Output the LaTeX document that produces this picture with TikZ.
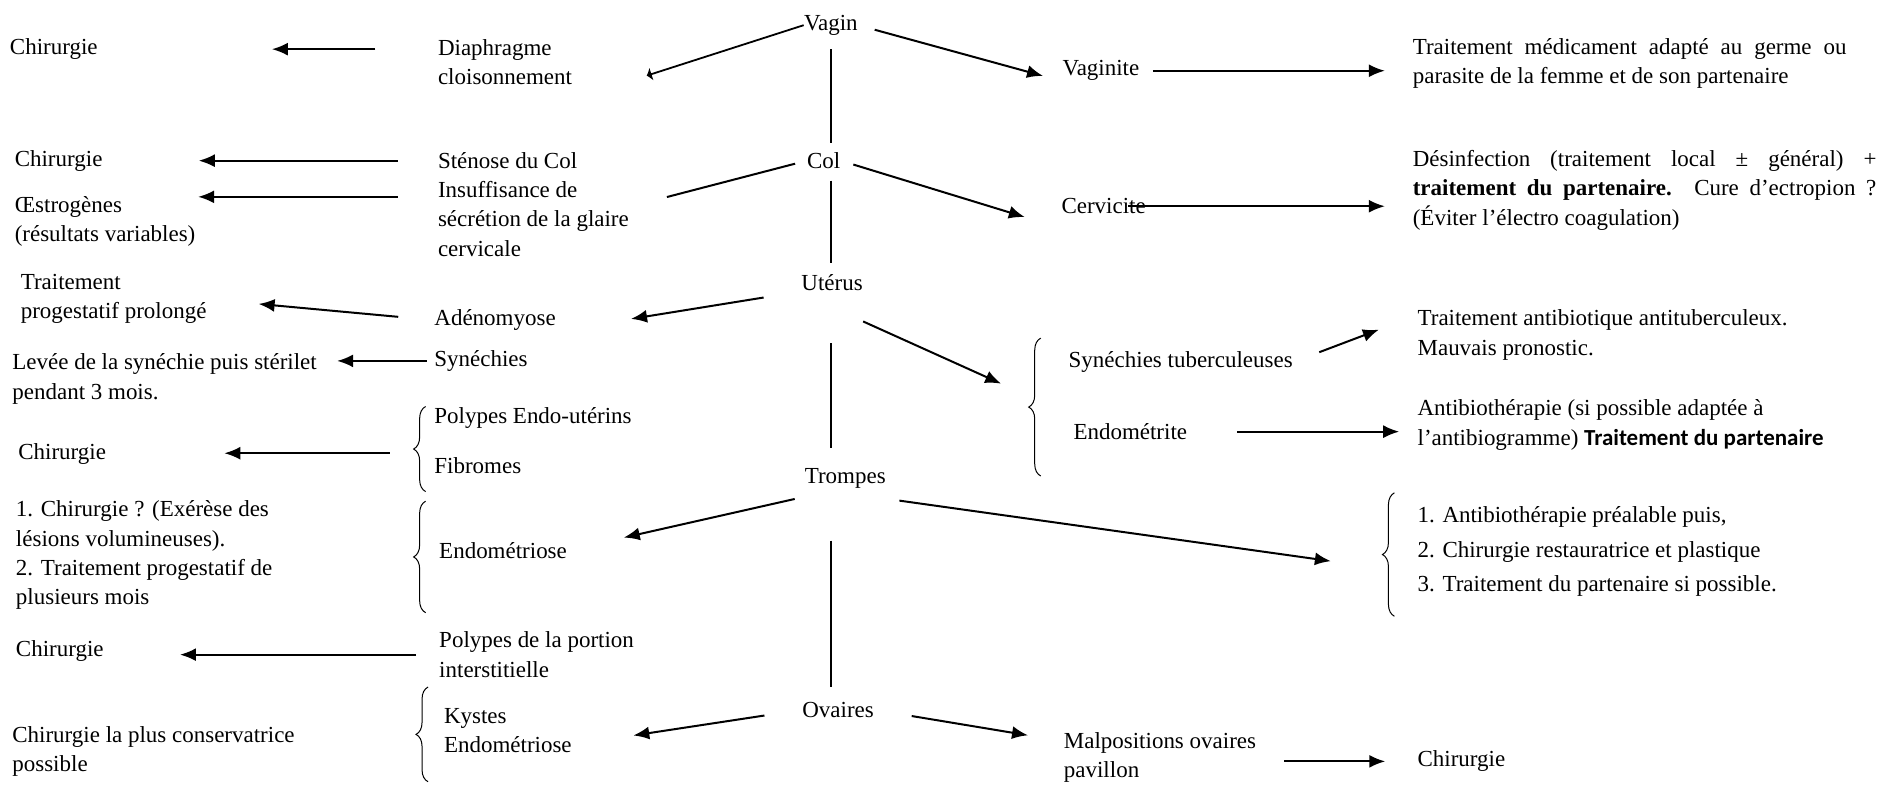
\documentclass[tikz,border=0pt]{standalone}
\usepackage{fontspec}
\setmainfont{Liberation Serif}
\newfontfamily\calibri{Carlito}
\usetikzlibrary{arrows.meta,decorations.pathreplacing}
\tolerance=9999
\hyphenpenalty=10000

\begin{document}
\begin{tikzpicture}[
    x=0.6pt, y=-0.6pt,
    >={Latex[length=8pt,width=6.5pt]},
    every node/.style={font=\fontsize{11.5}{14.7}\selectfont, inner sep=0pt},
    trunk/.style={anchor=center},
    txt/.style={anchor=west, align=left},
    just/.style={anchor=west, align=justify, text width=#1},
    arr/.style={->, line width=1pt},
    stem/.style={line width=0.7pt},
    brace/.style={decorate, decoration={brace, amplitude=6pt}, line width=0.5pt}
]
    \useasboundingbox (0,0) rectangle (1568,655);

    % trunk
    \node[trunk] (vagin) at (693,21) {Vagin};
    \node[trunk] (col) at (687,134) {Col};
    \node[trunk] (uterus) at (694,236) {Utérus};
    \node[trunk] (trompes) at (705,399) {Trompes};
    \node[trunk] (ovaires) at (699,592) {Ovaires};
    \coordinate (axis) at (693,0);

    % left side
    \node[txt] (chirA) at (8,41) {Chirurgie};
    \node[txt] (diaph) at (365,52) {Diaphragme\\cloisonnement};
    \node[txt] (chirB) at (12,134) {Chirurgie};
    \node[txt] (oestro) at (12,184.5) {Œstrogènes\\(résultats variables)};
    \node[txt] (stenose) at (365,134) {Sténose du Col};
    \node[txt] (insuff) at (365,182.5) {Insuffisance de\\sécrétion de la glaire\\cervicale};
    \node[txt] (traitProg) at (17,249.5) {Traitement\\progestatif prolongé};
    \node[txt] (adeno) at (362,267) {Adénomyose};
    \node[txt] (synech) at (362,301) {Synéchies};
    \node[txt] (levee) at (10,316) {Levée de la synéchie puis stérilet\\pendant 3 mois.};
    \node[txt] (polypes) at (362,349) {Polypes Endo-utérins};
    \node[txt] (fibromes) at (362,388) {Fibromes};
    \node[txt] (chirC) at (15,379) {Chirurgie};
    \node[txt] (endoT) at (366,459) {Endométriose};
    \node[txt] (chirD) at (13,463) {1. Chirurgie ? (Exérèse des\\lésions volumineuses).\\2. Traitement progestatif de\\plusieurs mois};
    \node[txt] (polInter) at (366,546) {Polypes de la portion\\interstitielle};
    \node[txt] (chirE) at (13,543) {Chirurgie};
    \node[txt] (kystes) at (370,609.5) {Kystes\\Endométriose};
    \node[txt] (chirF) at (10,626.5) {Chirurgie la plus conservatrice\\possible};

    % right side
    \node[txt] (vaginite) at (886,59) {Vaginite};
    \node[just=217pt] (traitVag) at (1178,53) {Traitement médicament adapté au germe ou\linebreak parasite de la femme et de son partenaire};
    \node[txt] (cervicite) at (885,172) {Cervicite};
    \node[just=232pt] (desinf) at (1178,158.5) {Désinfection (traitement local ± général) +\linebreak \textbf{traitement du partenaire.} Cure d’ectropion~?\linebreak (Éviter l’électro coagulation)};
    \node[txt] (synTub) at (891,302) {Synéchies tuberculeuses};
    \node[txt] (traitTub) at (1182,279.5) {Traitement antibiotique antituberculeux.\\Mauvais pronostic.};
    \node[txt] (endomet) at (895,360) {Endométrite};
    \node[txt] (antibio) at (1182,354.5) {Antibiothérapie (si possible adaptée à\\l’antibiogramme) {\calibri\bfseries Traitement du partenaire}};
    \node[txt, font=\fontsize{11.5}{17.4}\selectfont] (tromTrait) at (1182,460) {1. Antibiothérapie préalable puis,\\2. Chirurgie restauratrice et plastique\\3. Traitement du partenaire si possible.};
    \node[txt] (malpos) at (887,631.5) {Malpositions ovaires\\pavillon};
    \node[txt] (chirG) at (1182,635) {Chirurgie};

    % braces
    \draw[brace] (868,397) -- (868,282);
    \draw[brace] (1163,514) -- (1163,411);
    \draw[brace] (355,410) -- (355,339);
    \draw[brace] (355,511) -- (355,418);
    \draw[brace] (357,652) -- (357,573);
    \coordinate (utEnd) at (835,320);
    \coordinate (trEnd) at (1110,468);
    \coordinate (polTip) at (345,378);

    % trunk lines
    \draw[stem, shorten <=6.8pt, shorten >=4.4pt] (axis |- vagin.south) -- (axis |- col.north);
    \draw[stem, shorten <=5.8pt, shorten >=5.8pt] (axis |- col.south) -- (axis |- uterus.north);
    \draw[stem, shorten <=26pt, shorten >=10pt] (axis |- uterus.south) -- (axis |- trompes.north);
    \draw[stem, shorten <=26pt, shorten >=7.2pt] (axis |- trompes.south) -- (axis |- ovaires.north);

    % Vagin
    \draw[line width=0.9pt, -{Latex[length=2.5pt,width=7pt]}, shorten >=39pt] (vagin.west) -- ([yshift=-7pt]diaph.south east);
    \draw[arr, shorten <=31.2pt, shorten >=87pt] (diaph.west |- chirA.east) -- (chirA.east);
    \draw[arr, shorten <=8.6pt, shorten >=10pt] (vagin.east) -- (vaginite.south west);
    \draw[arr, shorten <=6.6pt, shorten >=13.8pt] (vaginite.east) -- (vaginite.east -| traitVag.west);

    % Col
    \draw[arr, -, shorten <=6pt, shorten >=19.5pt] (col.west) -- ([yshift=6pt]insuff.east);
    \draw[arr, shorten <=20pt, shorten >=48pt] (stenose.west) -- (chirB.east);
    \draw[arr, shorten <=20pt, shorten >=1.2pt] ([yshift=11pt]insuff.west) -- ([yshift=11pt]insuff.west -| oestro.east);
    \draw[arr, shorten <=6.6pt, shorten >=19pt] (col.east) -- ([yshift=-11pt]cervicite.west);
    \draw[arr, shorten <=-9pt, shorten >=13.8pt] (cervicite.east) -- (cervicite.east -| desinf.west);

    % Uterus
    \draw[arr, shorten <=19pt, shorten >=38pt] (uterus.south west) -- (adeno.south east);
    \draw[arr, shorten <=18pt, shorten >=26pt] (adeno.west) -- (traitProg.east);
    \draw[arr, shorten <=3.6pt, shorten >=10pt] (synech.west) -- (synech.west -| levee.east);
    \draw[arr, shorten <=12pt, shorten >=59pt] (polTip) -- (polTip -| chirC.east);
    \draw[arr] ([yshift=-15pt]uterus.south east) -- (utEnd);
    \draw[arr, shorten <=14pt, shorten >=20.5pt] (synTub.east) -- ([yshift=10pt]traitTub.west);
    \draw[arr, shorten <=25pt, shorten >=9pt] (endomet.east) -- (endomet.east -| antibio.west);

    % Trompes
    \draw[arr, shorten <=5pt, shorten >=29pt] ([yshift=-4pt]trompes.south west) -- (endoT.east);
    \draw[arr, shorten <=6.7pt] ([yshift=-5pt]trompes.south east) -- (trEnd);
    \draw[arr, shorten <=11.4pt, shorten >=38pt] (polInter.west) -- (polInter.west -| chirE.east);

    % Ovaires
    \draw[arr, shorten <=19pt, shorten >=31pt] (ovaires.west) -- ([yshift=-7pt]kystes.east);
    \draw[arr, shorten <=19pt, shorten >=18pt] (ovaires.east) -- ([yshift=8pt]malpos.west);
    \draw[arr, shorten <=14pt, shorten >=16pt] (chirG.west -| malpos.east) -- (chirG.west);

\end{tikzpicture}
\end{document}
